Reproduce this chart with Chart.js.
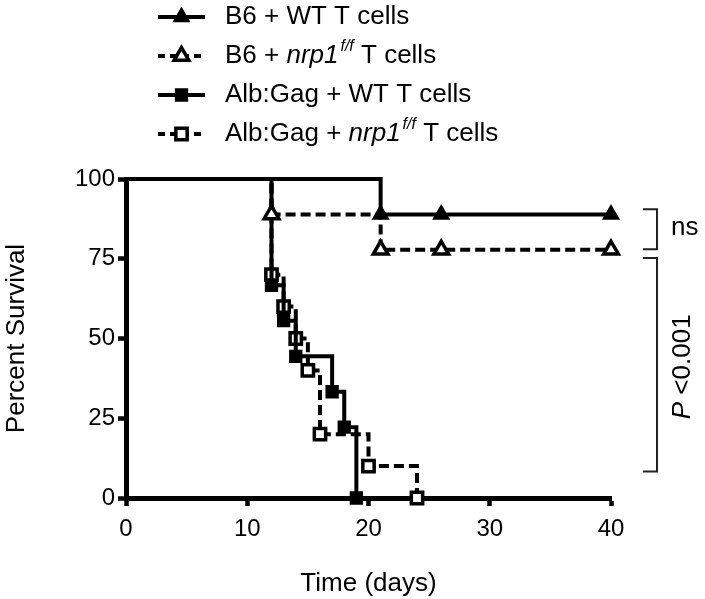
<!DOCTYPE html>
<html>
<head>
<meta charset="utf-8">
<script src="https://cdn.jsdelivr.net/npm/chart.js@4/dist/chart.umd.min.js"></script>
<style>
  html, body { margin: 0; padding: 0; background: #fff; }
</style>
</head>
<body>
<canvas id="survival" width="705" height="599"></canvas>
<script>
// Kaplan-Meier steps (day, percent survival)
const b6WtDays = [0, 21, 26, 40];
const b6WtSurvival = [100, 88.9, 88.9, 88.9];
const b6NrpDays = [0, 12, 21, 26, 40];
const b6NrpSurvival = [100, 88.9, 77.8, 77.8, 77.8];
const albWtDays = [0, 12, 13, 14, 17, 18, 19];
const albWtSurvival = [100, 66.7, 55.6, 44.4, 33.3, 22.2, 0];
const albNrpDays = [0, 12, 13, 14, 15, 16, 20, 24];
const albNrpSurvival = [100, 70, 60, 50, 40, 20, 10, 0];

const xTicks = [0, 10, 20, 30, 40];
const yTicks = [0, 25, 50, 75, 100];

// legend labels, split so the gene name can be italic with a superscript
const legendLabels = [
    [{ t: 'B6 + WT T cells' }],
    [{ t: 'B6 + ' }, { t: 'nrp1', it: true }, { t: 'f/f', it: true, sup: true }, { t: ' T cells' }],
    [{ t: 'Alb:Gag + WT T cells' }],
    [{ t: 'Alb:Gag + ' }, { t: 'nrp1', it: true }, { t: 'f/f', it: true, sup: true }, { t: ' T cells' }]
];

// significance brackets, in percent survival
const nsRange = [90.5, 78];
const pRange = [75.2, 8.3];

const FONT = "'Liberation Sans', Arial, Helvetica, sans-serif";

const toPoints = (xs, ys) => xs.map((x, i) => ({ x: x, y: ys[i] }));
const markerRadius = (xs, r) => xs.map((x, i) => i === 0 ? 0 : r);

const seriesStyle = [
    { pointStyle: 'triangle', filled: true, dashed: false, radius: 8.5 },
    { pointStyle: 'triangle', filled: false, dashed: true, radius: 8.5 },
    { pointStyle: 'rect', filled: true, dashed: false, radius: 8 },
    { pointStyle: 'rect', filled: false, dashed: true, radius: 8 }
];

function makeDataset(xs, ys, st) {
    return {
        data: toPoints(xs, ys),
        stepped: true,
        borderColor: '#000',
        borderWidth: 4,
        borderDash: st.dashed ? [10, 5] : [],
        borderCapStyle: 'butt',
        fill: false,
        clip: false,
        pointStyle: st.pointStyle,
        pointRadius: markerRadius(xs, st.radius),
        pointBorderWidth: st.filled ? 2 : 3.5,
        pointBorderColor: '#000',
        pointBackgroundColor: st.filled ? '#000' : '#fff'
    };
}

// legend, brackets and p-value text
const overlay = {
    id: 'overlay',
    afterDraw(chart) {
        const ctx = chart.ctx;
        const area = chart.chartArea;
        const yScale = chart.scales.y;
        ctx.save();

        legendLabels.forEach((parts, i) => {
            const st = seriesStyle[i];
            const cy = 17 + i * 39;
            ctx.strokeStyle = '#000';
            ctx.lineWidth = 4;
            ctx.setLineDash(st.dashed ? [7, 5] : []);
            ctx.beginPath();
            ctx.moveTo(158, cy);
            ctx.lineTo(205, cy);
            ctx.stroke();
            ctx.setLineDash([]);
            ctx.fillStyle = st.filled ? '#000' : '#fff';
            ctx.lineWidth = st.filled ? 2 : 3.5;
            Chart.helpers.drawPoint(ctx, { pointStyle: st.pointStyle, radius: st.radius, borderWidth: ctx.lineWidth, rotation: 0 }, 181.5, cy);

            let x = 225;
            ctx.fillStyle = '#000';
            ctx.textBaseline = 'middle';
            ctx.textAlign = 'left';
            parts.forEach(p => {
                const size = p.sup ? 16 : 26;
                ctx.font = (p.it ? 'italic ' : '') + size + 'px ' + FONT;
                ctx.fillText(p.t, x, p.sup ? cy - 9 : cy);
                x += ctx.measureText(p.t).width + (p.it && !p.sup ? 2 : 0);
            });
        });

        // brackets
        ctx.strokeStyle = '#222';
        ctx.lineWidth = 2;
        const stubL = area.right + 32, stubR = area.right + 46;
        [nsRange, pRange].forEach(r => {
            const t = yScale.getPixelForValue(r[0]);
            const b = yScale.getPixelForValue(r[1]);
            ctx.beginPath();
            ctx.moveTo(stubL, t);
            ctx.lineTo(stubR, t);
            ctx.lineTo(stubR, b);
            ctx.lineTo(stubL, b);
            ctx.stroke();
        });

        ctx.fillStyle = '#000';
        ctx.font = '26px ' + FONT;
        ctx.textAlign = 'left';
        ctx.textBaseline = 'middle';
        const nsMid = (yScale.getPixelForValue(nsRange[0]) + yScale.getPixelForValue(nsRange[1])) / 2;
        ctx.fillText('ns', area.right + 60, nsMid - 1);

        // rotated "P <0.001"
        const pMid = (yScale.getPixelForValue(pRange[0]) + yScale.getPixelForValue(pRange[1])) / 2;
        ctx.translate(area.right + 72, pMid + 2);
        ctx.rotate(-Math.PI / 2);
        ctx.font = 'italic 26px ' + FONT;
        const pW = ctx.measureText('P').width;
        ctx.font = '26px ' + FONT;
        const restW = ctx.measureText(' <0.001').width;
        let tx = -(pW + restW) / 2;
        ctx.font = 'italic 26px ' + FONT;
        ctx.fillText('P', tx, 0);
        ctx.font = '26px ' + FONT;
        ctx.fillText(' <0.001', tx + pW, 0);

        ctx.restore();
    }
};

const chart = new Chart(document.getElementById('survival'), {
    type: 'line',
    data: {
        datasets: [
            makeDataset(b6WtDays, b6WtSurvival, seriesStyle[0]),
            makeDataset(b6NrpDays, b6NrpSurvival, seriesStyle[1]),
            makeDataset(albWtDays, albWtSurvival, seriesStyle[2]),
            makeDataset(albNrpDays, albNrpSurvival, seriesStyle[3])
        ]
    },
    options: {
        responsive: false,
        animation: false,
        devicePixelRatio: 1,
        layout: { padding: { left: 0, top: 179, right: 94, bottom: 0 } },
        plugins: {
            legend: { display: false },
            tooltip: { enabled: false }
        },
        scales: {
            x: {
                type: 'linear',
                min: 0,
                max: 40,
                afterBuildTicks: s => { s.ticks = xTicks.map(v => ({ value: v })); },
                afterFit: s => { s.height = 101; },
                border: { display: true, color: '#000', width: 5 },
                grid: { drawOnChartArea: false, drawTicks: true, tickLength: 8, tickWidth: 4.5, tickColor: '#000' },
                ticks: { color: '#000', padding: 9, maxRotation: 0, font: { family: FONT, size: 24 } },
                title: { display: true, text: 'Time (days)', color: '#000', padding: { top: 0, bottom: 0 }, font: { family: FONT, size: 26 } }
            },
            y: {
                min: 0,
                max: 100,
                afterBuildTicks: s => { s.ticks = yTicks.map(v => ({ value: v })); },
                afterFit: s => { s.width = 126; },
                border: { display: true, color: '#000', width: 5 },
                grid: { drawOnChartArea: false, drawTicks: true, tickLength: 8, tickWidth: 4.5, tickColor: '#000' },
                ticks: { color: '#000', padding: 3, font: { family: FONT, size: 24 } },
                title: { display: true, text: 'Percent Survival', color: '#000', padding: { top: 1, bottom: 0 }, font: { family: FONT, size: 26 } }
            }
        }
    },
    plugins: [overlay]
});
</script>
</body>
</html>
